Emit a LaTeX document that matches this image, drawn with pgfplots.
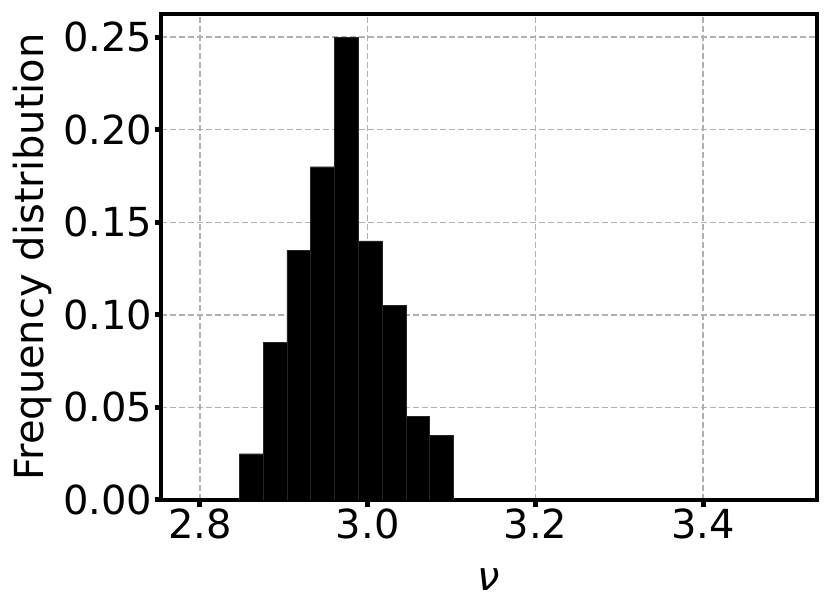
\documentclass[border=0pt]{standalone}
\usepackage{fontspec}
\setmainfont{DejaVu Sans}
\usepackage{pgfplots}
\pgfplotsset{compat=1.18}
\definecolor{gridgray}{HTML}{B0B0B0}
\begin{document}
\begin{tikzpicture}[x=1pt,y=1pt]
\path[use as bounding box] (0,0) rectangle (830,613);
\begin{axis}[
  at={(161pt,113pt)}, anchor=south west,
  scale only axis, width=656pt, height=486pt,
  xmin=2.7535, xmax=3.5358, ymin=0, ymax=0.2625,
  xtick={2.8,3.0,3.2,3.4},
  ytick={0,0.05,0.10,0.15,0.20,0.25},
  /pgf/number format/assume math mode=true,
  xticklabel style={/pgf/number format/.cd, fixed, fixed zerofill, precision=1},
  yticklabel style={/pgf/number format/.cd, fixed, fixed zerofill, precision=2},
  ticklabel style={font=\fontsize{40}{48}\selectfont, inner sep=2pt},
  label style={font=\fontsize{40}{48}\selectfont},
  tick pos=left, tick align=outside,
  major tick length=6.5pt,
  every tick/.style={black, line width=5pt},
  axis line style={line width=4.5pt},
  grid=major,
  major grid style={gridgray, dash pattern=on 6pt off 3pt, line width=1.5pt},
  xlabel={\itshape ν},
  ylabel={Frequency distribution},
  xlabel style={at={(axis description cs:0.5,-0.1646)}, anchor=center},
  ylabel style={at={(axis description cs:-0.1966,0.5)}, anchor=center},
]
% histogram: bin edges and normalised heights
\addplot[ybar interval, fill=black, draw=black!85, line width=0.4pt]
coordinates {(2.8469,0.025) (2.8753,0.085) (2.9036,0.135) (2.9320,0.18) (2.9603,0.25)
 (2.9887,0.14) (3.0171,0.105) (3.0454,0.045) (3.0738,0.035) (3.1021,0.035)};
\end{axis}
\end{tikzpicture}
\end{document}
